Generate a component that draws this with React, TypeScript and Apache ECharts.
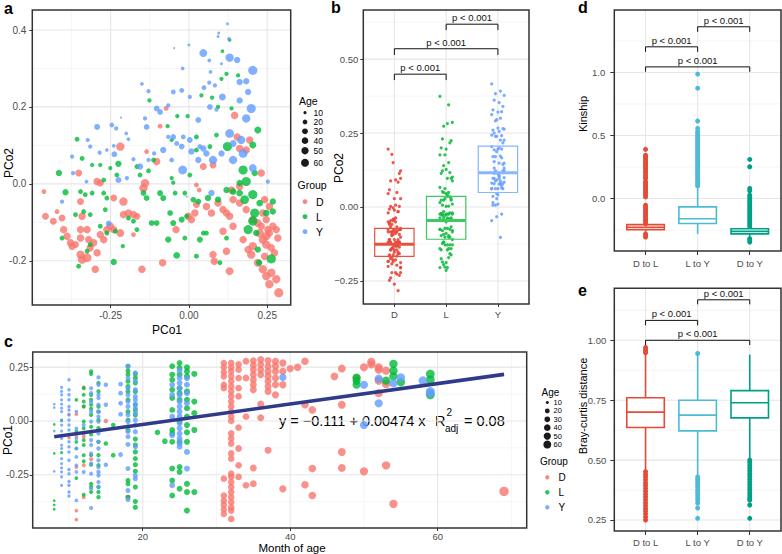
import React, { useEffect, useRef } from 'react';
import * as echarts from 'echarts';

const FONT = '"Liberation Sans", Arial, Helvetica, sans-serif';

// ---------- Panel a: PCoA points [PCo1, PCo2, age (months)] ----------
const pcoaD: number[][] = [
  [-0.463,-0.02,15],[-0.458,-0.084,30],[-0.433,-0.097,30],[-0.421,-0.072,15],[-0.405,-0.089,30],[-0.4,-0.119,35],[-0.389,-0.136,35],[-0.378,-0.153,35],[-0.373,-0.162,35],[-0.362,-0.158,30],
  [-0.346,-0.046,30],[-0.341,-0.084,35],[-0.346,-0.119,35],[-0.346,-0.141,35],[-0.352,0.028,30],[-0.293,0.006,35],[-0.283,0.002,30],[-0.325,-0.119,35],[-0.32,-0.145,35],[-0.315,-0.166,35],
  [-0.304,-0.153,35],[-0.293,-0.179,35],[-0.346,-0.184,45],[-0.341,-0.197,45],[-0.325,-0.192,50],[-0.299,-0.222,35],[-0.283,-0.132,35],[-0.272,-0.145,35],[-0.262,-0.119,35],[-0.251,-0.11,35],
  [-0.24,-0.119,35],[-0.219,-0.128,40],[-0.209,-0.08,35],[-0.193,-0.076,35],[-0.177,-0.08,35],[-0.166,-0.084,30],[-0.219,0.097,45],[-0.24,-0.037,30],[-0.209,-0.046,45],[-0.14,0.002,45],
  [-0.145,-0.011,45],[-0.103,0.058,35],[-0.135,0.084,15],[-0.092,0.15,15],[-0.073,0.196,15],[-0.177,-0.132,15],[-0.15,-0.222,35],[-0.084,-0.205,35],[-0.041,-0.119,35],[-0.002,-0.084,35],
  [0.008,-0.093,35],[0.019,-0.076,35],[0.024,-0.054,30],[0.033,-0.016,15],[0.024,-0.003,15],[0.046,0.045,30],[0.077,0.049,30],[0.056,-0.059,35],[0.072,-0.076,35],[0.093,-0.05,35],
  [0.109,-0.067,35],[0.12,-0.076,35],[0.13,-0.084,35],[0.141,-0.11,35],[0.109,-0.123,35],[0.077,-0.184,35],[0.081,-0.201,35],[0.13,-0.227,40],[0.146,0.178,35],[0.154,0.122,35],
  [0.162,0.092,35],[0.183,0.088,35],[0.194,0.114,35],[0.231,0.028,35],[0.162,-0.007,35],[0.136,-0.016,35],[0.141,-0.041,35],[0.162,-0.05,35],[0.183,-0.067,35],[0.204,-0.093,40],
  [0.22,-0.102,40],[0.226,-0.128,45],[0.236,-0.145,45],[0.247,-0.158,45],[0.257,-0.128,35],[0.268,-0.11,35],[0.279,-0.119,35],[0.204,-0.162,45],[0.199,-0.184,45],[0.173,-0.145,35],
  [0.189,-0.171,35],[0.22,-0.205,40],[0.236,-0.222,45],[0.247,-0.24,45],[0.263,-0.231,45],[0.257,-0.261,45],[0.279,-0.248,45],[0.287,-0.283,55],[0.247,-0.093,35],[0.252,-0.119,35],
  [0.263,-0.166,35],[0.284,-0.141,35],[0.242,-0.188,35],[0.273,-0.179,35],[0.12,-0.175,35],[0.236,-0.076,35],[0.242,-0.041,35],[0.257,-0.059,35],[0.231,-0.11,35],[0.247,-0.136,45],
];
const pcoaL: number[][] = [
  [0.13,0.374,10],[0.107,0.345,10],[0.104,0.273,12],[0.12,0.286,12],[0.157,0.282,12],[0.04,0.23,12],[0.074,0.224,12],[0.136,0.196,12],[0.093,0.2,12],[-0.126,0.217,12],
  [-0.037,0.176,12],[-0.004,0.176,12],[-0.068,0.15,12],[0.22,0.14,30],[0.204,0.101,30],[0.123,0.097,55],[0.024,0.122,15],[0.067,0.097,15],[0.088,0.127,15],[-0.055,0.114,12],
  [-0.357,0.116,15],[-0.415,0.028,25],[-0.341,0.066,15],[-0.309,0.049,12],[-0.283,0.049,12],[-0.272,0.01,15],[-0.251,0.041,12],[-0.225,0.052,25],[-0.23,0.023,15],[-0.166,0.045,15],
  [-0.156,0.023,15],[-0.129,0.034,15],[-0.113,0.062,15],[-0.055,0.015,12],[-0.05,0.003,12],[0.003,0.023,15],[0.024,0.088,15],[0.173,0.036,55],[0.183,0.006,55],[0.21,0.028,25],
  [0.162,0.002,25],[-0.394,-0.022,25],[-0.346,-0.02,15],[-0.331,-0.028,15],[-0.309,-0.024,15],[-0.272,-0.024,15],[-0.262,-0.037,15],[-0.145,-0.024,20],[-0.135,-0.037,20],[-0.092,-0.024,22],
  [-0.082,-0.037,22],[-0.044,-0.024,15],[-0.013,-0.024,15],[0.014,-0.041,20],[0.03,-0.046,20],[0.061,-0.037,25],[0.093,-0.041,25],[0.12,-0.016,25],[0.141,-0.02,28],[0.162,-0.024,28],
  [0.204,-0.028,55],[0.178,-0.041,50],[0.226,-0.05,28],[0.268,-0.046,25],[0.247,-0.076,28],[0.268,-0.072,25],[0.21,-0.076,55],[0.204,-0.097,55],[0.189,-0.119,55],[-0.362,-0.08,15],
  [-0.336,-0.072,15],[-0.315,-0.08,15],[-0.267,-0.067,15],[-0.193,-0.089,15],[-0.177,-0.097,15],[-0.119,-0.102,20],[-0.103,-0.102,20],[-0.06,-0.076,20],[-0.05,-0.102,22],[-0.023,-0.093,22],
  [-0.007,-0.084,15],[-0.066,-0.145,25],[-0.039,-0.186,28],[-0.013,-0.141,15],[0.024,-0.188,15],[0.035,-0.145,22],[0.046,-0.128,15],[0.056,-0.128,15],[0.099,-0.205,15],[0.12,-0.141,15],
  [-0.166,-0.119,15],[-0.283,-0.11,15],[-0.262,-0.128,15],[-0.235,-0.123,15],[-0.211,-0.162,12],[-0.352,-0.214,15],[-0.325,-0.175,15],[-0.315,-0.158,15],[-0.24,-0.203,25],[-0.405,-0.141,15],
  [0.22,-0.171,25],[0.263,-0.195,55],[0.215,-0.128,25],[0.224,-0.205,25],
];
const pcoaY: number[][] = [
  [0.123,0.416,8],[0.095,0.392,8],[0.093,0.383,8],[0.128,0.377,10],[-0.047,0.353,6],[0.0,0.361,8],[0.046,0.34,40],[0.065,0.321,10],[0.13,0.328,45],[0.154,0.322,25],
  [0.204,0.295,55],[0.104,0.312,8],[-0.02,0.3,10],[0.069,0.291,10],[0.065,0.263,12],[0.083,0.256,12],[0.048,0.25,15],[0.162,0.265,25],[0.183,0.267,25],[-0.15,0.26,10],
  [-0.129,0.241,12],[-0.05,0.239,15],[-0.023,0.243,15],[0.003,0.226,12],[0.189,0.239,25],[0.107,0.226,30],[0.067,0.2,20],[0.088,0.193,12],[0.162,0.217,25],[0.199,0.196,55],
  [0.183,0.17,45],[-0.103,0.196,20],[-0.092,0.187,20],[-0.066,0.204,12],[-0.217,0.172,6],[-0.14,0.17,12],[-0.135,0.148,20],[-0.293,0.148,22],[-0.246,0.153,15],[-0.232,0.144,12],
  [-0.323,0.114,12],[-0.315,0.097,12],[-0.373,0.071,12],[-0.37,0.028,12],[-0.285,0.081,12],[-0.262,0.088,10],[-0.327,0.006,10],[-0.24,0.099,10],[-0.238,0.077,20],[-0.2,0.131,10],
  [-0.193,0.116,10],[-0.225,0.01,22],[-0.198,0.015,12],[-0.177,0.064,12],[-0.156,0.045,25],[-0.129,0.062,12],[-0.111,0.079,12],[-0.082,0.088,25],[-0.05,0.122,20],[-0.039,0.105,15],
  [-0.023,0.097,20],[-0.018,0.122,15],[0.003,0.114,20],[-0.02,0.036,50],[0.03,0.166,20],[0.046,0.092,25],[0.03,0.062,25],[0.056,0.079,25],[0.077,0.062,45],[0.13,0.131,50],
  [0.141,0.105,30],[0.167,0.114,45],[0.173,0.079,50],[0.204,0.041,40],[0.252,0.006,12],[0.072,-0.024,25],[-0.007,-0.033,6],[-0.405,-0.046,12],[-0.256,-0.103,20],[-0.066,0.122,12],
  [0.008,0.084,25],[0.035,0.097,15],[0.104,0.079,25],[0.141,0.062,45],[-0.055,0.062,15],
];

// ---------- Panel b: PCo2 box statistics [q1, median, q3] ----------
const groupNames = ['D', 'L', 'Y'];
const pco2Boxes: number[][] = [
  [-0.167, -0.126, -0.072],
  [-0.109, -0.046, 0.036],
  [0.049, 0.116, 0.206],
];
const bBrackets: number[][] = [[0, 1, 0.449, 0.429], [0, 2, 0.535, 0.514], [1, 2, 0.618, 0.598]];

// ---------- Panel c: PCo1 by month of age, columns [age, [PCo1...]] ----------
const ageD: [number, number[]][] = [
  [10,[0.031,-0.078]],[11,[0.031,-0.069,-0.214,-0.416,-0.458]],[12,[0.156,0.067,-0.073,-0.206,-0.354]],[13,[-0.178]],[15,[0.0]],[18,[-0.354]],
  [31,[0.269,0.249,0.227,0.207,0.168,0.152,-0.268,-0.346,-0.37,-0.39,-0.411,-0.432]],
  [32,[0.269,0.249,0.23,0.207,0.184,0.16,0.137,0.114,0.09,0.067,0.043,0.02,0.0,-0.058,-0.081,-0.105,-0.151,-0.175,-0.245,-0.26,-0.284,-0.307,-0.33,-0.354,-0.377,-0.401,-0.416,-0.455]],
  [33,[0.262,0.238,0.199,0.152,0.114,-0.031,-0.128,-0.206,-0.26]],[34,[0.277,0.199,0.02,-0.299]],
  [35,[0.28,0.258,0.238,0.215,0.191,0.168,0.145,-0.218,-0.292]],[36,[0.285,0.262,0.238,0.215,0.078,0.015]],
  [37,[0.28,0.254,0.23,0.207,0.184,0.16,0.137,-0.136]],[38,[0.277,0.254,0.23,0.199,0.168,0.121]],[39,[0.269,0.23,0.168,-0.315]],
  [40,[0.243]],[41,[0.249]],[42,[0.277,0.075,-0.296]],[43,[0.051,-0.221,-0.346]],[46,[0.207]],[47,[0.243,0.075,-0.144,-0.218]],
  [49,[0.199]],[50,[0.249,-0.234]],[51,[0.274,0.262]],[52,[0.249,0.238,0.187,0.129]],[53,[0.233,0.171,-0.206]],[54,[-0.385]],[69,[-0.327]],
];
const ageL: [number, number[]][] = [
  [8,[-0.016,-0.151,-0.37,-0.39,-0.41]],[9,[0.004,-0.147]],[11,[0.098,-0.047,-0.265,-0.128,-0.097]],
  [12,[0.152,0.121,0.09,0.067,-0.003,-0.034,-0.089,-0.112,-0.159,-0.187,-0.343]],
  [13,[0.23,0.218,0.121,0.098,0.075,0.056,0.028,-0.027,-0.063,-0.159,-0.203,-0.292,-0.307,-0.33]],
  [14,[0.176,0.137,0.067,0.043,0.004,-0.034,-0.097,-0.159,-0.206,-0.307,-0.33,-0.354]],[15,[-0.105]],[16,[-0.019,-0.159]],
  [18,[0.254,0.233,0.215,0.184,0.16,0.137,0.098,0.043,0.004,-0.042,-0.276,-0.292,-0.354]],
  [19,[0.218,0.199,0.176,0.137,0.075,0.051,0.028,-0.084,-0.112,-0.144,-0.175,-0.203,-0.234,-0.307,-0.374,-0.401]],
  [22,[-0.053]],[23,[-0.094]],
  [24,[0.254,0.215,0.191,0.145,0.106,0.051,-0.042,-0.058,-0.097,-0.221,-0.276,-0.346]],
  [25,[0.269,0.246,0.215,0.152,0.129,0.098,-0.003,-0.097,-0.214,-0.237,-0.315]],
  [26,[0.249,0.23,0.207,0.137,0.098,0.059,0.02,-0.019,-0.053,-0.097,-0.292,-0.33,-0.416]],
  [27,[0.218,0.09,0.036,-0.042,-0.33]],[49,[0.202,0.187,0.168]],[53,[0.187]],[54,[0.265,0.233,0.207]],[55,[0.18]],[59,[0.218,0.191,0.121]],
];
const ageY: [number, number[]][] = [
  [8,[0.078,0.062,-0.047,-0.234]],
  [9,[0.156,0.137,0.121,0.098,0.078,0.059,0.043,0.0,-0.019,-0.047,-0.081,-0.112,-0.128,-0.175,-0.198,-0.218,-0.237,-0.26,-0.299]],
  [10,[0.191,0.145,0.121,0.098,0.067,0.051,0.028,0.004,-0.019,-0.042,-0.063,-0.097,-0.12,-0.144,-0.183,-0.225,-0.245,-0.281,-0.299,-0.33,-0.349]],
  [11,[0.043,-0.034,-0.081,-0.128,-0.167,-0.206,-0.237,-0.369]],[12,[-0.019,-0.058,-0.237]],
  [13,[0.152,0.129,0.087,0.043,-0.003,-0.05,-0.089,-0.112,-0.151,-0.198,-0.245,-0.315,-0.404]],
  [14,[0.202,0.168,0.121,0.106,0.075,0.043,0.02,-0.003,-0.058,-0.097,-0.128,-0.183,-0.214,-0.237,-0.253,-0.284,-0.307]],
  [15,[0.168,0.075,-0.203]],[17,[0.171,0.129,0.082,0.031,-0.156]],
  [18,[0.254,0.199,0.152,0.121,0.09,0.067,0.028,-0.003,-0.027,-0.05,-0.073,-0.109,-0.221,-0.323,-0.365]],
  [19,[0.223,0.184,0.145,0.114,0.098,0.078,0.059,0.036,0.004,-0.019,-0.05,-0.12,-0.253,-0.268]],
  [24,[0.168,0.121,0.02,-0.066,-0.299]],
  [25,[0.233,0.199,0.176,0.152,0.121,0.09,0.067,0.043,0.02,-0.011,-0.034,-0.058,-0.081,-0.105,-0.12]],
  [26,[0.199,0.168,0.129,0.082,-0.144,-0.221]],[39,[0.202]],[50,[0.168,-0.019]],[52,[0.196,0.082]],[54,[0.176]],[55,[0.202]],[58,[0.187]],[59,[0.137,0.129]],
];
const regLine: number[][] = [[8, -0.073], [69, 0.216]];
const eqText = 'y = \u22120.111 + 0.00474 x';
const r2Text = '= 0.08';

// ---------- Panels d / e: pairwise comparisons ----------
const pairNames = ['D to L', 'L to Y', 'D to Y'];
// [whisker low, q1, median, q3, whisker high]
const kinBoxes: number[][] = [
  [-0.262, -0.247, -0.229, -0.207, -0.2],
  [-0.28, -0.198, -0.16, -0.066, 0.1],
  [-0.3, -0.28, -0.26, -0.24, -0.228],
];
const kinOutDL = [0.39,0.343,0.331,0.318,0.302,0.29,0.276,0.263,0.25,0.236,0.221,0.205,0.186,0.171,0.158,0.133,0.12,0.104,0.09,0.075,0.061,0.047,0.03,0.013,-0.053,-0.066,-0.081,-0.095,-0.11,-0.124,-0.139,-0.152,-0.168,-0.183,-0.2,-0.28,-0.292,-0.305];
const kinOutLY = [0.987,0.875,0.615,0.557,0.532,0.519,0.503,0.49,0.474,0.46,0.447,0.431,0.418,0.402,0.389,0.373,0.36,0.344,0.33,0.315,0.301,0.287,0.272,0.259,0.243,0.228,0.214,0.2,0.186,0.171,0.158,0.142,0.128,0.113,0.1];
const kinOutDY = [0.31,0.252,0.08,0.062,0.027,0.012,-0.004,-0.019,-0.035,-0.05,-0.066,-0.081,-0.097,-0.112,-0.128,-0.143,-0.158,-0.174,-0.19,-0.205,-0.222,-0.318,-0.331,-0.345];
const kinBrackets: number[][] = [[0, 1, 1.203, 1.163], [1, 2, 1.362, 1.322], [0, 2, 1.044, 1.005]];

const bcBoxes: number[][] = [
  [0.458, 0.636, 0.7, 0.76, 0.945],
  [0.4375, 0.622, 0.6875, 0.75, 0.935],
  [0.507, 0.676, 0.739, 0.79, 0.94],
];
const bcOutDL = [0.97,0.962,0.955,0.948,0.452,0.44,0.43,0.418,0.405,0.394,0.382,0.37,0.358,0.347,0.335,0.322,0.31,0.298,0.287,0.275,0.262,0.25];
const bcOutLY = [0.945,0.43,0.42,0.41,0.398,0.388,0.376,0.366,0.355,0.344,0.333,0.32,0.3,0.257];
const bcOutDY = [0.5,0.49,0.478,0.466,0.455,0.443,0.432,0.42,0.408,0.397,0.385,0.374,0.362,0.35,0.34,0.333,0.3125,0.257];
const bcBrackets: number[][] = [[0, 1, 1.083, 1.0625], [1, 2, 1.169, 1.15], [0, 2, 1.0, 0.98]];
const pLabel = 'p < 0.001';

// ---------- ticks and grid lines ----------
const aXTicks = [-0.25, 0, 0.25];
const aXMinor = [-0.375, -0.125, 0.125];
const aYTicks = [-0.2, 0, 0.2, 0.4];
const aYMinor = [-0.3, -0.1, 0.1, 0.3];
const bYTicks = [-0.25, 0, 0.25, 0.5];
const bYMinor = [-0.125, 0.125, 0.375, 0.625];
const catTicks = [0, 1, 2];
const cXTicks = [20, 40, 60];
const cXMinor = [10, 30, 50, 70];
const cYTicks = [-0.25, 0, 0.25];
const cYMinor = [-0.375, -0.125, 0.125];
const dYTicks = [0, 0.5, 1];
const dYMinor = [-0.25, 0.25, 0.75, 1.25];
const eYTicks = [0.25, 0.5, 0.75, 1];
const eYMinor = [0.375, 0.625, 0.875, 1.125];
const legendAges = [10, 20, 30, 40, 50, 60];

const COL = { D: '#F8766D', L: '#00BA38', Y: '#619CFF' };
const BCOL = ['#E8473A', '#16BC44', '#6DA3FF'];
const BSTROKE = ['#E8503F', '#3CC862', '#88B5FF'];
const PCOL = ['#E64B35', '#4DBBD5', '#00A087'];

const sizeOf = (age: number) => 1.8 + 7.6 * Math.sqrt(Math.max(age - 7, 0) / 62);
const flatCols = (cols: [number, number[]][]) => {
  const out: number[][] = [];
  cols.forEach(([a, vs]) => vs.forEach((v) => out.push([a, v])));
  return out;
};
const jit = (i: number) => ((((i * 7) % 11) / 10) - 0.5) * 0.24;

function axis(gi: number, pos: string, min: number, max: number, ticks: number[], fmt: (v: number) => string, fs: number, margin: number, tl: number) {
  return {
    type: 'value', gridIndex: gi, min, max, position: pos,
    axisLine: { show: false, onZero: false },
    axisTick: { show: true, length: tl, lineStyle: { color: '#333', width: 1 }, customValues: ticks },
    axisLabel: { show: true, customValues: ticks, formatter: (v: number) => fmt(v), color: '#4D4D4D', fontSize: fs, fontFamily: FONT, margin },
    splitLine: { show: false },
  };
}

function gridLines(gi: number, x0: number, y0: number, xMaj: number[], xMin: number[], yMaj: number[], yMin: number[]) {
  const data = [
    ...yMin.map((v) => [x0, v, 1, 0]), ...xMin.map((v) => [v, y0, 1, 1]),
    ...yMaj.map((v) => [x0, v, 0, 0]), ...xMaj.map((v) => [v, y0, 0, 1]),
  ];
  return {
    type: 'custom', xAxisIndex: gi, yAxisIndex: gi, z: 1, silent: true, data,
    renderItem: (params: any, api: any) => {
      const cs = params.coordSys;
      const p = api.coord([api.value(0), api.value(1)]);
      const minor = api.value(2) === 1;
      const vert = api.value(3) === 1;
      const shape = vert
        ? { x1: p[0], y1: cs.y, x2: p[0], y2: cs.y + cs.height }
        : { x1: cs.x, y1: p[1], x2: cs.x + cs.width, y2: p[1] };
      return { type: 'line', shape, style: { stroke: minor ? '#F1F1F1' : '#E6E6E6', lineWidth: minor ? 0.7 : 1.1 } };
    },
  };
}

function border(gi: number, x0: number, y0: number) {
  return {
    type: 'custom', xAxisIndex: gi, yAxisIndex: gi, z: 8, silent: true, data: [[x0, y0]],
    renderItem: (params: any) => {
      const cs = params.coordSys;
      return { type: 'rect', shape: { x: cs.x, y: cs.y, width: cs.width, height: cs.height }, style: { fill: 'none', stroke: '#333', lineWidth: 1.5 } };
    },
  };
}

function boxes(gi: number, rows: number[][], colors: string[], o: { w: number; lw: number; medW: number; fill: string; whisk: boolean; z: number }) {
  return {
    type: 'custom', xAxisIndex: gi, yAxisIndex: gi, z: o.z, silent: true, data: rows,
    renderItem: (params: any, api: any) => {
      const i = params.dataIndex;
      const x = api.value(0);
      const c = colors[i];
      const yl = api.coord([x, api.value(1)])[1];
      const yq1 = api.coord([x, api.value(2)])[1];
      const ym = api.coord([x, api.value(3)])[1];
      const yq3 = api.coord([x, api.value(4)])[1];
      const yh = api.coord([x, api.value(5)])[1];
      const cx = api.coord([x, api.value(3)])[0];
      const half = api.size([o.w, 0])[0] / 2;
      const ch: any[] = [];
      if (o.whisk) {
        ch.push({ type: 'line', shape: { x1: cx, y1: yq3, x2: cx, y2: yh }, style: { stroke: c, lineWidth: o.lw } });
        ch.push({ type: 'line', shape: { x1: cx, y1: yq1, x2: cx, y2: yl }, style: { stroke: c, lineWidth: o.lw } });
      }
      ch.push({ type: 'rect', shape: { x: cx - half, y: yq3, width: 2 * half, height: yq1 - yq3 }, style: { fill: o.fill, stroke: c, lineWidth: o.lw } });
      ch.push({ type: 'line', shape: { x1: cx - half, y1: ym, x2: cx + half, y2: ym }, style: { stroke: c, lineWidth: o.medW } });
      return { type: 'group', children: ch };
    },
  };
}

function brackets(gi: number, rows: number[][], fs: number) {
  return {
    type: 'custom', xAxisIndex: gi, yAxisIndex: gi, z: 6, silent: true, data: rows,
    renderItem: (params: any, api: any) => {
      const x1 = api.value(0), x2 = api.value(1), y = api.value(2), yd = api.value(3);
      const a = api.coord([x1, yd]), b = api.coord([x1, y]), c = api.coord([x2, y]), d = api.coord([x2, yd]);
      return {
        type: 'group',
        children: [
          { type: 'polyline', shape: { points: [a, b, c, d] }, style: { stroke: '#111', lineWidth: 1, fill: 'none' } },
          { type: 'text', x: (b[0] + c[0]) / 2, y: b[1] - 1.5, style: { text: pLabel, fontSize: fs, fontFamily: FONT, fill: '#111', align: 'center', textAlign: 'center', verticalAlign: 'bottom', textVerticalAlign: 'bottom' } },
        ],
      };
    },
  };
}

function txt(x: number, y: number, text: string, fs: number, opts: any = {}) {
  return {
    type: 'text', x, y, rotation: opts.rot || 0, silent: true,
    style: {
      text, fontSize: fs, fontFamily: FONT, fontWeight: opts.bold ? 'bold' : 'normal', fill: opts.fill || '#000',
      align: opts.align || 'left', textAlign: opts.align || 'left', verticalAlign: 'middle', textVerticalAlign: 'middle',
    },
  };
}

function buildOption() {
  const f2 = (v: number) => v.toFixed(2);
  const f1 = (v: number) => v.toFixed(1);
  const f2m = (v: number) => v.toFixed(2).replace('-', '\u2212');
  const cat = (names: string[]) => (v: number) => names[Math.round(v)] || '';

  const grids = [
    { left: 32.3, top: 10, width: 258.4, height: 295 },
    { left: 363.3, top: 10, width: 165.7, height: 294 },
    { left: 32.7, top: 352, width: 494, height: 176 },
    { left: 614.3, top: 10, width: 166.7, height: 241 },
    { left: 614.3, top: 288.3, width: 166.7, height: 242.7 },
  ].map((g) => ({ ...g, containLabel: false, show: false }));

  const xAxis = [
    axis(0, 'bottom', -0.5, 0.325, aXTicks, f2, 10, 5, 3),
    axis(1, 'bottom', -0.6, 2.6, catTicks, cat(groupNames), 9.5, 5, 3),
    axis(2, 'bottom', 5.08, 72.07, cXTicks, (v) => String(v), 9.5, 3, 3),
    axis(3, 'bottom', -0.6, 2.6, catTicks, cat(pairNames), 9.5, 7, 4),
    axis(4, 'bottom', -0.6, 2.6, catTicks, cat(pairNames), 9.5, 6, 4),
  ];
  const yAxis = [
    axis(0, 'left', -0.315, 0.452, aYTicks, f1, 10, 6, 3),
    axis(1, 'left', -0.328, 0.666, bYTicks, f2m, 9.5, 5, 3),
    axis(2, 'left', -0.497, 0.32, cYTicks, f2, 10, 4, 3),
    axis(3, 'left', -0.416, 1.495, dYTicks, f1, 9.5, 9, 4),
    axis(4, 'left', 0.204, 1.217, eYTicks, f2, 9.5, 8, 4),
  ];

  const series: any[] = [];
  series.push(gridLines(0, -0.5, -0.315, aXTicks, aXMinor, aYTicks, aYMinor));
  series.push(gridLines(1, -0.6, -0.328, catTicks, [], bYTicks, bYMinor));
  series.push(gridLines(2, 5.08, -0.497, cXTicks, cXMinor, cYTicks, cYMinor));
  series.push(gridLines(3, -0.6, -0.416, catTicks, [], dYTicks, dYMinor));
  series.push(gridLines(4, -0.6, 0.204, catTicks, [], eYTicks, eYMinor));

  // panel a
  const aSets: [number[][], string][] = [[pcoaD, COL.D], [pcoaL, COL.L], [pcoaY, COL.Y]];
  aSets.forEach(([d, c]) => series.push({
    type: 'scatter', xAxisIndex: 0, yAxisIndex: 0, data: d, silent: true, z: 2,
    symbolSize: (v: number[]) => sizeOf(v[2]) * 1.08, itemStyle: { color: c, opacity: 0.8 },
  }));

  // panel b
  [pcoaD, pcoaL, pcoaY].forEach((d, g) => series.push({
    type: 'scatter', xAxisIndex: 1, yAxisIndex: 1, silent: true, z: 2,
    data: d.map((p, i) => [g + jit(i), p[1]]), symbolSize: 3.2, itemStyle: { color: BCOL[g], opacity: 0.9 },
  }));
  series.push(boxes(1, pco2Boxes.map((r, g) => [g, r[0], r[0], r[1], r[2], r[2]]), BSTROKE, { w: 0.76, lw: 1.2, medW: 3, fill: 'none', whisk: false, z: 4 }));
  series.push(brackets(1, bBrackets, 9.5));

  // panel c
  const cSets: [[number, number[]][], string][] = [[ageD, COL.D], [ageL, COL.L], [ageY, COL.Y]];
  cSets.forEach(([d, c]) => series.push({
    type: 'scatter', xAxisIndex: 2, yAxisIndex: 2, data: flatCols(d), silent: true, z: 2,
    symbolSize: (v: number[]) => sizeOf(v[0]), itemStyle: { color: c, opacity: 0.8 },
  }));
  series.push({
    type: 'line', xAxisIndex: 2, yAxisIndex: 2, data: regLine, symbol: 'none', silent: true, z: 4,
    lineStyle: { color: '#2F3A8A', width: 3.6 },
  });

  // panel d
  series.push(boxes(3, kinBoxes.map((r, g) => [g, ...r]), PCOL, { w: 0.72, lw: 1.6, medW: 1.6, fill: '#fff', whisk: true, z: 3 }));
  [kinOutDL, kinOutLY, kinOutDY].forEach((d, g) => series.push({
    type: 'scatter', xAxisIndex: 3, yAxisIndex: 3, data: d.map((v) => [g, v]), silent: true, z: 4,
    symbolSize: 5, itemStyle: { color: PCOL[g], opacity: 1 },
  }));
  series.push(brackets(3, kinBrackets, 9.5));

  // panel e
  series.push(boxes(4, bcBoxes.map((r, g) => [g, ...r]), PCOL, { w: 0.72, lw: 1.6, medW: 1.6, fill: '#fff', whisk: true, z: 3 }));
  [bcOutDL, bcOutLY, bcOutDY].forEach((d, g) => series.push({
    type: 'scatter', xAxisIndex: 4, yAxisIndex: 4, data: d.map((v) => [g, v]), silent: true, z: 4,
    symbolSize: 5, itemStyle: { color: PCOL[g], opacity: 1 },
  }));
  series.push(brackets(4, bcBrackets, 9.5));

  series.push(border(0, -0.5, -0.315));
  series.push(border(1, -0.6, -0.328));
  series.push(border(2, 5.08, -0.497));
  series.push(border(3, -0.6, -0.416));
  series.push(border(4, -0.6, 0.204));

  const g: any[] = [];
  g.push(txt(4, 8, 'a', 16, { bold: true }));
  g.push(txt(331, 7.5, 'b', 16, { bold: true }));
  g.push(txt(4, 341, 'c', 16, { bold: true }));
  g.push(txt(578, 7.5, 'd', 16, { bold: true }));
  g.push(txt(578, 290, 'e', 16, { bold: true }));

  const V = Math.PI / 2;
  g.push(txt(8.5, 163, 'PCo2', 12, { rot: V, align: 'center' }));
  g.push(txt(167, 330, 'PCo1', 12, { align: 'center' }));
  g.push(txt(339, 168, 'PCo2', 12, { rot: V, align: 'center' }));
  g.push(txt(7.5, 440, 'PCo1', 12, { rot: V, align: 'center' }));
  g.push(txt(292, 548, 'Month of age', 11.5, { align: 'center' }));
  g.push(txt(583, 114, 'Kinship', 11, { rot: V, align: 'center' }));
  g.push(txt(583, 406, 'Bray-curtis distance', 11, { rot: V, align: 'center' }));

  // equation
  g.push(txt(279, 421, eqText, 14.5));
  g.push(txt(435, 421, 'R', 14.5));
  g.push(txt(446.5, 412.5, '2', 10));
  g.push(txt(445, 428, 'adj', 10));
  g.push(txt(464, 421, r2Text, 14.5));

  // legend for a
  g.push(txt(299, 101, 'Age', 10.5));
  const aLegY = [112.7, 122, 131.3, 140.7, 150.7, 162.7];
  legendAges.forEach((a, i) => {
    g.push({ type: 'circle', silent: true, shape: { cx: 305, cy: aLegY[i], r: sizeOf(a) / 2 * 0.9 }, style: { fill: '#1A1A1A' } });
    g.push(txt(313.5, aLegY[i], String(a), 8.5));
  });
  g.push(txt(297.5, 185, 'Group', 10.5));
  const gCols = [COL.D, COL.L, COL.Y];
  [201.7, 216.7, 231.7].forEach((y, i) => {
    g.push({ type: 'circle', silent: true, shape: { cx: 305, cy: y, r: 2.4 }, style: { fill: gCols[i], opacity: 0.85 } });
    g.push(txt(316, y, groupNames[i], 10.5));
  });

  // legend beside e
  g.push(txt(541.5, 392.7, 'Age', 10));
  const eLegY = [402.5, 410.9, 419.3, 427.7, 436.1, 444.5];
  legendAges.forEach((a, i) => {
    g.push({ type: 'circle', silent: true, shape: { cx: 547.3, cy: eLegY[i], r: sizeOf(a) / 2 * 0.9 }, style: { fill: '#1A1A1A' } });
    g.push(txt(553.5, eLegY[i], String(a), 7.5));
  });
  g.push(txt(540, 461, 'Group', 10));
  [477.3, 492.3, 507.3].forEach((y, i) => {
    g.push({ type: 'circle', silent: true, shape: { cx: 547.3, cy: y, r: 2.2 }, style: { fill: gCols[i], opacity: 0.85 } });
    g.push(txt(558.5, y, groupNames[i], 10));
  });

  return {
    animation: false,
    backgroundColor: '#ffffff',
    textStyle: { fontFamily: FONT },
    grid: grids,
    xAxis,
    yAxis,
    series,
    graphic: g,
  };
}

export default function App() {
  const ref = useRef<HTMLDivElement>(null);
  useEffect(() => {
    if (!ref.current) return;
    const chart = echarts.init(ref.current, null, { renderer: 'svg' });
    chart.setOption(buildOption() as any);
    return () => chart.dispose();
  }, []);
  return (
    <div
      ref={ref}
      style={{ position: 'fixed', left: 0, top: 0, width: 782, height: 554, background: '#fff' }}
    />
  );
}
